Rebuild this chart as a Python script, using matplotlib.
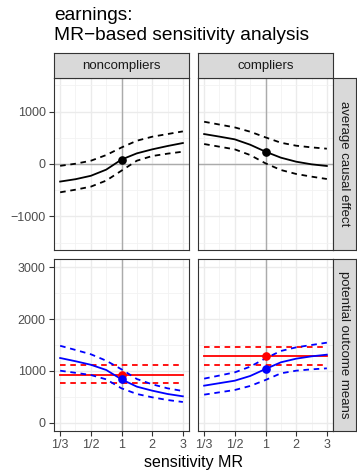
import numpy as np
import matplotlib
matplotlib.use('Agg')
import matplotlib.pyplot as plt
from matplotlib.ticker import FixedLocator, FixedFormatter

plt.rcParams['font.family'] = ['Liberation Sans', 'DejaVu Sans']

W, H = 357, 470

# ---- data ----
mr = [1/3, 0.4, 0.5, 2/3, 1, 1.5, 2, 2.5, 3]
xtick_vals = [1/3, 1/2, 1, 2, 3]
xtick_labels = ['1/3', '1/2', '1', '2', '3']
col_labels = ['noncompliers', 'compliers']
row_labels = ['average causal effect', 'potential outcome means']

# average causal effect (top row)
nc_ace = [-335, -290, -225, -108, 85, 203, 279, 343, 400]
nc_ace_hi = [-35, 5, 62, 170, 315, 444, 520, 571, 622]
nc_ace_lo = [-540, -490, -432, -317, -127, 63, 152, 197, 235]
co_ace = [571, 522, 470, 368, 235, 121, 44, -6, -38]
co_ace_hi = [806, 752, 698, 616, 508, 406, 349, 317, 292]
co_ace_lo = [381, 330, 279, 171, 13, -114, -190, -241, -286]

# potential outcome means (bottom row)
nc_red, nc_red_hi, nc_red_lo = 929, 1122, 776
nc_blue = [1250, 1188, 1120, 1020, 840, 699, 622, 558, 513]
nc_blue_hi = [1485, 1405, 1322, 1199, 1032, 846, 744, 667, 615]
nc_blue_lo = [1006, 965, 923, 840, 667, 558, 494, 442, 404]
co_red, co_red_hi, co_red_lo = 1295, 1468, 1109
co_blue = [718, 766, 814, 904, 1038, 1167, 1237, 1282, 1314]
co_blue_hi = [853, 913, 974, 1083, 1244, 1385, 1455, 1500, 1545]
co_blue_lo = [545, 590, 635, 712, 827, 955, 1006, 1032, 1051]


def fwd(x):
    x = np.asarray(x, dtype=float)
    with np.errstate(divide='ignore', invalid='ignore'):
        return np.where(x >= 1, x - 1, 1 - 1 / x)


def inv(t):
    t = np.asarray(t, dtype=float)
    with np.errstate(divide='ignore', invalid='ignore'):
        return np.where(t >= 0, t + 1, 1 / (1 - t))


def box(x0, y0, x1, y1):
    return [x0 / W, 1 - y1 / H, (x1 - x0) / W, (y1 - y0) / H]


fig = plt.figure(figsize=(W / 100, H / 100), dpi=100)
fig.patch.set_facecolor('white')

cols = [(54, 189), (198, 333)]
rows = [(78, 250), (259, 431)]
BORDER = '#333333'
LW = 1.3
DASH = (0, (3.1, 2.6))

axes = {}
for r, (y0, y1) in enumerate(rows):
    for c, (x0, x1) in enumerate(cols):
        ax = fig.add_axes(box(x0, y0, x1, y1))
        axes[(r, c)] = ax
        ax.set_xscale('function', functions=(fwd, inv))
        ax.set_xlim(inv(-2.2), inv(2.2))
        ax.xaxis.set_major_locator(FixedLocator(xtick_vals))
        ax.xaxis.set_major_formatter(FixedFormatter(xtick_labels))
        ax.xaxis.set_minor_locator(FixedLocator([0.4, 2/3, 1.5, 2.5]))
        if r == 0:
            ax.set_ylim(-1640, 1640)
            ax.yaxis.set_major_locator(FixedLocator([-1000, 0, 1000]))
            ax.yaxis.set_minor_locator(FixedLocator([-1500, -500, 500, 1500]))
        else:
            ax.set_ylim(-154, 3154)
            ax.yaxis.set_major_locator(FixedLocator([0, 1000, 2000, 3000]))
            ax.yaxis.set_minor_locator(FixedLocator([500, 1500, 2500]))
        ax.grid(which='major', color='#EBEBEB', lw=1.0)
        ax.grid(which='minor', color='#F2F2F2', lw=0.6)
        ax.set_axisbelow(True)
        for s in ax.spines.values():
            s.set_color(BORDER)
            s.set_linewidth(0.8)
        ax.tick_params(which='minor', length=0)
        ax.tick_params(which='major', length=3.4, width=0.8, color=BORDER,
                       labelcolor='#4D4D4D', labelsize=9, pad=2.5)
        if r == 0:
            ax.tick_params(axis='x', which='both', bottom=False, labelbottom=False)
        if c == 1:
            ax.tick_params(axis='y', which='both', left=False, labelleft=False)
        ax.axvline(1, color='#ABABAB', lw=1.0, zorder=1.5)
        if r == 0:
            ax.axhline(0, color='#ABABAB', lw=1.0, zorder=1.5)

i1 = mr.index(1)

# top row
for c, (m, hi, lo) in enumerate([(nc_ace, nc_ace_hi, nc_ace_lo),
                                 (co_ace, co_ace_hi, co_ace_lo)]):
    ax = axes[(0, c)]
    ax.plot(mr, m, color='black', lw=LW)
    ax.plot(mr, hi, color='black', lw=LW, ls=DASH)
    ax.plot(mr, lo, color='black', lw=LW, ls=DASH)
    ax.plot([1], [m[i1]], 'o', color='black', ms=5.2, zorder=5)

# bottom row
for c, (rv, rhi, rlo, b, bhi, blo) in enumerate([
        (nc_red, nc_red_hi, nc_red_lo, nc_blue, nc_blue_hi, nc_blue_lo),
        (co_red, co_red_hi, co_red_lo, co_blue, co_blue_hi, co_blue_lo)]):
    ax = axes[(1, c)]
    xs = [mr[0], mr[-1]]
    ax.plot(xs, [rv, rv], color='red', lw=LW)
    ax.plot(xs, [rhi, rhi], color='red', lw=LW, ls=DASH)
    ax.plot(xs, [rlo, rlo], color='red', lw=LW, ls=DASH)
    ax.plot(mr, b, color='blue', lw=LW)
    ax.plot(mr, bhi, color='blue', lw=LW, ls=DASH)
    ax.plot(mr, blo, color='blue', lw=LW, ls=DASH)
    ax.plot([1], [rv], 'o', color='red', ms=5.2, zorder=5)
    ax.plot([1], [b[i1]], 'o', color='blue', ms=5.2, zorder=6)

# strips
STRIP = '#D9D9D9'
for c, (x0, x1) in enumerate(cols):
    sax = fig.add_axes(box(x0, 53, x1, 78))
    sax.set_facecolor(STRIP)
    sax.set_xticks([]); sax.set_yticks([])
    for s in sax.spines.values():
        s.set_color(BORDER); s.set_linewidth(0.8)
    sax.text(0.5, 0.5, col_labels[c], ha='center', va='center',
             fontsize=9.5, color='#1A1A1A', transform=sax.transAxes)
for r, (y0, y1) in enumerate(rows):
    sax = fig.add_axes(box(333, y0, 356, y1))
    sax.set_facecolor(STRIP)
    sax.set_xticks([]); sax.set_yticks([])
    for s in sax.spines.values():
        s.set_color(BORDER); s.set_linewidth(0.8)
    sax.text(0.5, 0.5, row_labels[r], ha='center', va='center', rotation=-90,
             fontsize=9.5, color='#1A1A1A', transform=sax.transAxes)

# titles / labels
fig.text(54 / W, 1 - 20 / H, 'earnings:', ha='left', va='baseline',
         fontsize=13.8, color='black')
fig.text(54 / W, 1 - 40.5 / H, 'MR\u2212based sensitivity analysis', ha='left',
         va='baseline', fontsize=13.8, color='black')
fig.text(193.5 / W, 1 - 462 / H, 'sensitivity MR', ha='center', va='center',
         fontsize=11.5, color='black')

fig.savefig('out.png', dpi=100)
